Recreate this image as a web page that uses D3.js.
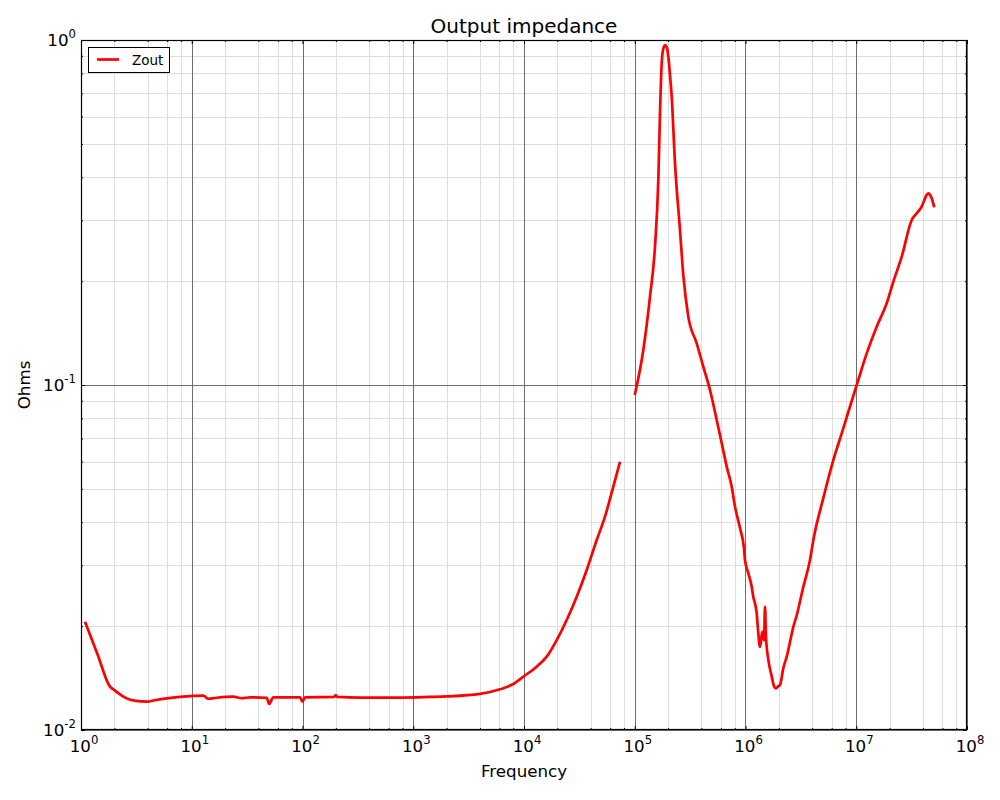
<!DOCTYPE html>
<html><head><meta charset="utf-8">
<script src="https://cdn.jsdelivr.net/npm/d3@7"></script>
<style>body{margin:0;background:#fff} text{font-family:"DejaVu Sans",sans-serif}</style>
</head><body><svg id="c" width="1000" height="800"></svg>
<script>
// ---- data ----
const freqLow = [1.087,1.409,1.827,2.0,2.586,3.138,3.92,4.756,5.94,7.833,10.33,12.72,14.11,16.8,23.73,28.25,33.57,47.5,50,54.5,94.9,100,105.3,192.5,200,204.9,330.5,759.5,1416,2017,4006,6072,8007,10060,13020,16030,19740,24300,29920,36830,45340,53870,64020,73590];
const zLow    = [0.0206,0.01659,0.01335,0.01305,0.01235,0.01214,0.01208,0.01222,0.01235,0.01247,0.01255,0.01258,0.01232,0.0124,0.01249,0.01236,0.01244,0.0124,0.0119,0.01244,0.01244,0.01208,0.01244,0.01247,0.01263,0.01247,0.01242,0.01242,0.01247,0.01251,0.01272,0.01312,0.01359,0.01434,0.01526,0.01632,0.01823,0.02084,0.02434,0.0291,0.03554,0.04153,0.05073,0.05991];
const freqHigh = [1.0e5,1.195e5,1.373e5,1.523e5,1.632e5,1.69e5,1.751e5,1.799e5,1.876e5,1.956e5,2.009e5,2.081e5,2.156e5,2.309e5,2.562e5,2.744e5,3.044e5,3.626e5,4.158e5,4.78e5,5.495e5,6.099e5,6.766e5,7.508e5,8.039e5,8.918e5,9.693e5,9.897e5,1.06e6,1.138e6,1.176e6,1.218e6,1.262e6,1.297e6,1.352e6,1.418e6,1.469e6,1.5e6,1.531e6,1.607e6,1.724e6,1.808e6,1.885e6,1.978e6,2.049e6,2.194e6,2.355e6,2.702e6,2.9e6,3.326e6,3.823e6,4.095e6,5.041e6,6.207e6,7.389e6,8.477e6,1.01e7,1.243e7,1.53e7,1.884e7,2.16e7,2.573e7,3.168e7,3.514e7,3.899e7,4.265e7,4.474e7,4.73e7,5.067e7];
const zHigh    = [0.0935,0.1263,0.1803,0.2518,0.3928,0.6131,0.8561,0.9355,0.9672,0.948,0.8947,0.7916,0.685,0.4391,0.2813,0.2084,0.1578,0.1321,0.113,0.0967,0.0792,0.0678,0.058,0.0507,0.0444,0.0385,0.0336,0.0311,0.0285,0.026,0.0243,0.0233,0.0218,0.0195,0.0174,0.0193,0.0182,0.0228,0.0186,0.016,0.0143,0.0134,0.0132,0.0134,0.0135,0.0151,0.0163,0.0199,0.0215,0.026,0.0311,0.0355,0.047,0.0606,0.0724,0.0835,0.1,0.1235,0.1476,0.1725,0.1992,0.2354,0.3008,0.3146,0.3287,0.353,0.3594,0.3514,0.3274];
const xTickExponents = [0,1,2,3,4,5,6,7,8];
const yTickExponents = [-2,-1,0];
const xMinorSubs = [2,4,6,8];
const yMinorSubs = [2,3,4,5,6,7,8,9];
const seriesName = "Zout";
const titleText = "Output impedance";
const xLabelText = "Frequency";
const yLabelText = "Ohms";

// ---- layout ----
const L = 81, R = 967, T = 40, B = 730;
const svg = d3.select("#c");
const x = d3.scaleLog().domain([1, 1e8]).range([L, R]);
const y = d3.scaleLog().domain([1e-2, 1]).range([B, T]);

const xMajor = xTickExponents.map(e => Math.pow(10, e));
const yMajor = yTickExponents.map(e => Math.pow(10, e));
const xMinor = [], yMinor = [];
xTickExponents.slice(0, -1).forEach(e => xMinorSubs.forEach(s => xMinor.push(s * Math.pow(10, e))));
yTickExponents.slice(0, -1).forEach(e => yMinorSubs.forEach(s => yMinor.push(s * Math.pow(10, e))));

// grid
const g = svg.append("g");
g.selectAll(".xmin").data(xMinor).enter().append("line")
  .attr("x1", d => Math.round(x(d)) + 0.5).attr("x2", d => Math.round(x(d)) + 0.5)
  .attr("y1", T).attr("y2", B).attr("stroke", "#dedede").attr("stroke-width", 1);
g.selectAll(".ymin").data(yMinor).enter().append("line")
  .attr("y1", d => Math.round(y(d)) + 0.5).attr("y2", d => Math.round(y(d)) + 0.5)
  .attr("x1", L).attr("x2", R).attr("stroke", "#dedede").attr("stroke-width", 1);
g.selectAll(".xmaj").data(xMajor).enter().append("line")
  .attr("x1", d => Math.round(x(d)) + 0.5).attr("x2", d => Math.round(x(d)) + 0.5)
  .attr("y1", T).attr("y2", B).attr("stroke", "#6e6e6e").attr("stroke-width", 1);
g.selectAll(".ymaj").data(yMajor).enter().append("line")
  .attr("y1", d => Math.round(y(d)) + 0.5).attr("y2", d => Math.round(y(d)) + 0.5)
  .attr("x1", L).attr("x2", R).attr("stroke", "#6e6e6e").attr("stroke-width", 1);

// data line
const pts = freqLow.map((f, i) => ({f, z: zLow[i]}))
  .concat([{f: NaN, z: NaN}])
  .concat(freqHigh.map((f, i) => ({f, z: zHigh[i]})));
svg.append("clipPath").attr("id", "clip").append("rect")
  .attr("x", L).attr("y", T).attr("width", R - L).attr("height", B - T);
svg.append("path").datum(pts)
  .attr("clip-path", "url(#clip)")
  .attr("fill", "none").attr("stroke", "#ff0000").attr("stroke-width", 2.7)
  .attr("stroke-linejoin", "round")
  .attr("d", d3.line().defined(d => !isNaN(d.f)).curve(d3.curveMonotoneX).x(d => x(d.f)).y(d => y(d.z)));

// ticks (inward, all four sides)
function ticks(axisFn, scale, vals, size, transform) {
  svg.append("g").attr("transform", transform)
    .call(axisFn(scale).tickValues(vals).tickSize(size).tickFormat(""))
    .call(s => s.select(".domain").remove())
    .call(s => s.selectAll("line").attr("stroke", "#000"));
}
ticks(d3.axisBottom, x, xMajor, -4, `translate(0,${B})`);
ticks(d3.axisBottom, x, xMinor, -2, `translate(0,${B})`);
ticks(d3.axisTop, x, xMajor, -4, `translate(0,${T})`);
ticks(d3.axisTop, x, xMinor, -2, `translate(0,${T})`);
ticks(d3.axisLeft, y, yMajor, -4, `translate(${L},0)`);
ticks(d3.axisLeft, y, yMinor, -2, `translate(${L},0)`);
ticks(d3.axisRight, y, yMajor, -4, `translate(${R},0)`);
ticks(d3.axisRight, y, yMinor, -2, `translate(${R},0)`);

// frame
svg.append("rect").attr("x", L + 0.5).attr("y", T + 0.5).attr("width", R - L - 1).attr("height", B - T - 1)
  .attr("fill", "none").attr("stroke", "#000").attr("stroke-width", 1.2);

// tick labels
function powLabel(sel, e) {
  sel.append("tspan").text("10");
  sel.append("tspan").attr("font-size", 11.7).attr("dy", -8).text(String(e));
}
xTickExponents.forEach(e => {
  const t = svg.append("text").attr("x", x(Math.pow(10, e)) + 3).attr("y", 752)
    .attr("text-anchor", "middle").attr("font-size", 16.7).attr("fill", "#000");
  powLabel(t, e);
});
yTickExponents.forEach(e => {
  const t = svg.append("text").attr("x", 76).attr("y", y(Math.pow(10, e)) + 6)
    .attr("text-anchor", "end").attr("font-size", 16.7).attr("fill", "#000");
  powLabel(t, e);
});

// titles
svg.append("text").attr("x", (L + R) / 2).attr("y", 33).attr("text-anchor", "middle")
  .attr("font-size", 20).text(titleText);
svg.append("text").attr("x", (L + R) / 2).attr("y", 777).attr("text-anchor", "middle")
  .attr("font-size", 16.7).text(xLabelText);
svg.append("text").attr("transform", `translate(30,${(T + B) / 2}) rotate(-90)`)
  .attr("text-anchor", "middle").attr("font-size", 16.7).text(yLabelText);

// legend
const lg = svg.append("g");
lg.append("rect").attr("x", 88.5).attr("y", 47.5).attr("width", 81).attr("height", 25)
  .attr("fill", "#fff").attr("stroke", "#000").attr("stroke-width", 1);
lg.append("line").attr("x1", 97).attr("x2", 119).attr("y1", 59.5).attr("y2", 59.5)
  .attr("stroke", "#ff0000").attr("stroke-width", 2.7);
lg.append("text").attr("x", 132).attr("y", 64.5).attr("font-size", 13.5).text(seriesName);
</script></body></html>
